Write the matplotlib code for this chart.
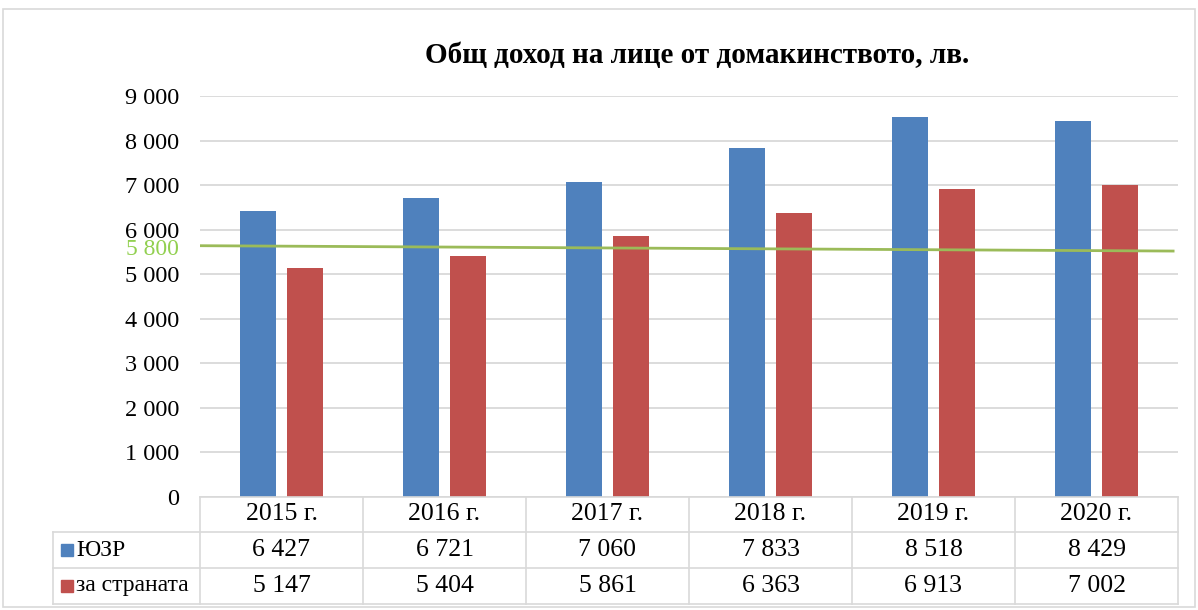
import matplotlib.pyplot as plt
import numpy as np

# Data
years = ['2015 г.', '2016 г.', '2017 г.', '2018 г.', '2019 г.', '2020 г.']
ujzr = [6427, 6721, 7060, 7833, 8518, 8429]
country = [5147, 5404, 5861, 6363, 6913, 7002]
series_names = ['ЮЗР', 'за страната']
line_ends = [5640, 5520]   # green reference line, left and right end
line_label = '5 800'
title = 'Общ доход на лице от домакинството, лв.'

blue = '#4F81BD'
red = '#C0504D'
grid_c = '#D9D9D9'

plt.rcParams['font.family'] = ['Liberation Serif', 'DejaVu Serif']

W, H = 1198, 610
fig = plt.figure(figsize=(W / 100, H / 100), dpi=100)

def fx(px):
    return px / W

def fy(py):
    return 1 - py / H

# outer border
fig.add_artist(plt.Rectangle((fx(3), fy(607)), fx(1195) - fx(3), fy(9) - fy(607),
                             transform=fig.transFigure, fill=False, ec=grid_c, lw=1.2))

x0, x1, y_top, y_bot = 200, 1178, 96, 497
ax = fig.add_axes([fx(x0), fy(y_bot), fx(x1) - fx(x0), fy(y_top) - fy(y_bot)])

x = np.arange(len(years))
bw = 0.22
ax.bar(x - 0.144, ujzr, bw, color=blue, zorder=3)
ax.bar(x + 0.144, country, bw, color=red, zorder=3)
ax.plot([-0.5, 5.47], line_ends, color='#9BBB59', lw=2, zorder=4)

ax.set_xlim(-0.5, 5.5)
ax.set_ylim(0, 9000)
yt = np.arange(0, 9001, 1000)
ax.set_yticks(yt)
ax.set_yticklabels([f'{v:,}'.replace(',', ' ') for v in yt], fontsize=17.5)
ax.tick_params(axis='y', length=0, pad=15)
ax.set_xticks([])
for s in ax.spines.values():
    s.set_visible(False)
ax.grid(axis='y', color=grid_c, lw=1.3, zorder=0)
ax.annotate(line_label, xy=(0, line_ends[0]), xycoords=('axes fraction', 'data'),
            xytext=(-15, -3), textcoords='offset points', color='#92D050', fontsize=17,
            ha='right', va='center')

fig.text(fx(697), fy(55), title, ha='center', va='center', fontsize=21, fontweight='bold')

# data table
col_w = (x1 - x0) / len(years)
row_y = [497, 532, 568, 604]
left_tab = 53
lw = 1.2
fig.add_artist(plt.Line2D([fx(x0), fx(x1)], [fy(row_y[0])] * 2, color=grid_c, lw=lw))
for ry in row_y[1:]:
    fig.add_artist(plt.Line2D([fx(left_tab), fx(x1)], [fy(ry)] * 2, color=grid_c, lw=lw))
fig.add_artist(plt.Line2D([fx(left_tab)] * 2, [fy(row_y[1]), fy(row_y[3])], color=grid_c, lw=lw))
for i in range(len(years) + 1):
    xx = x0 + i * col_w
    fig.add_artist(plt.Line2D([fx(xx)] * 2, [fy(row_y[0]), fy(row_y[3])], color=grid_c, lw=lw))

tfs = 18.5
for i, yr in enumerate(years):
    cx = fx(x0 + (i + 0.5) * col_w)
    fig.text(cx, fy((row_y[0] + row_y[1]) / 2), yr, ha='center', va='center', fontsize=tfs)
    fig.text(cx, fy((row_y[1] + row_y[2]) / 2), f'{ujzr[i]:,}'.replace(',', ' '),
             ha='center', va='center', fontsize=tfs)
    fig.text(cx, fy((row_y[2] + row_y[3]) / 2), f'{country[i]:,}'.replace(',', ' '),
             ha='center', va='center', fontsize=tfs)

for k, (name, c) in enumerate(zip(series_names, [blue, red])):
    cy = (row_y[k + 1] + row_y[k + 2]) / 2
    fig.add_artist(plt.Rectangle((fx(61), fy(cy + 6)), fx(12), fy(cy - 6) - fy(cy + 6),
                                 transform=fig.transFigure, color=c))
    fig.text(fx(76), fy(cy), name, ha='left', va='center', fontsize=17)

plt.savefig('out.png', dpi=100)
